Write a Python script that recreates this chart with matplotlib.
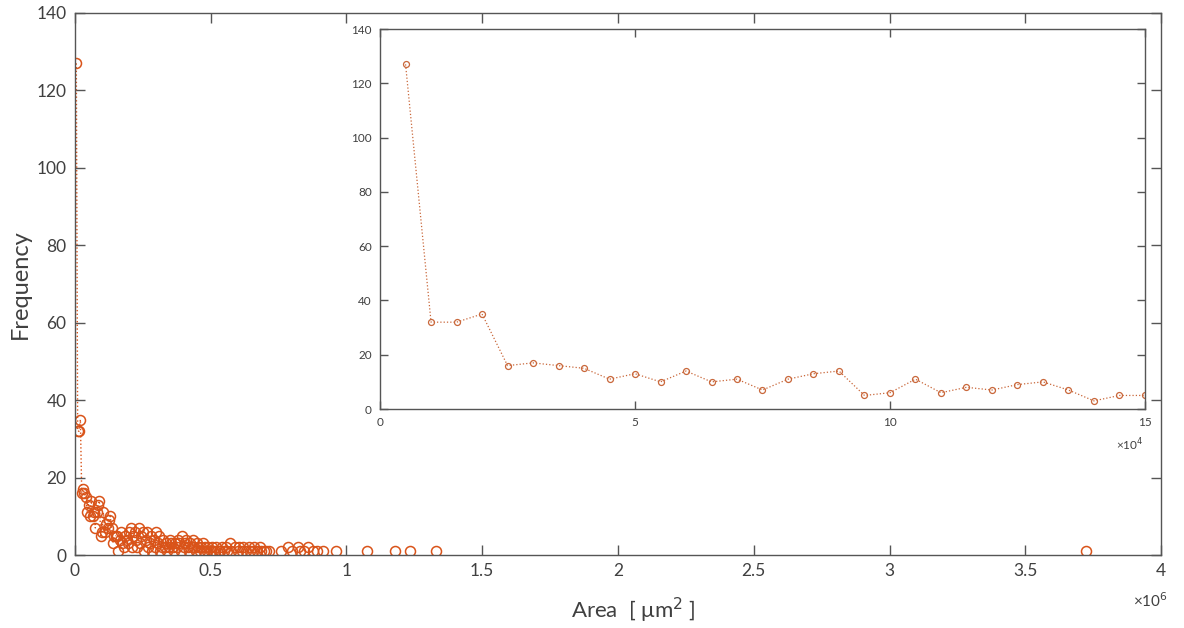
import matplotlib

matplotlib.use("Agg")

import matplotlib.pyplot as plt  # noqa: E402
from matplotlib.ticker import FuncFormatter  # noqa: E402

# bin centres in units of 1e3 um^2, counts per bin (non-empty bins only)
inset_x = [5, 10, 15, 20, 25, 30, 35, 40, 45, 50, 55, 60, 65, 70, 75,
           80, 85, 90, 95, 100, 105, 110, 115, 120, 125, 130, 135, 140, 145, 150]
inset_y = [127, 32, 32, 35, 16, 17, 16, 15, 11, 13, 10, 14, 10, 11, 7,
           11, 13, 14, 5, 6, 11, 6, 8, 7, 9, 10, 7, 3, 5, 5]

tail_x = [155, 160, 165, 170, 175, 180, 185, 190, 195, 200, 205, 210, 215, 220,
          225, 230, 235, 240, 245, 250, 255, 260, 265, 270, 275, 280, 285, 290,
          295, 300, 305, 310, 315, 320, 325, 330, 335, 340, 345, 350, 355, 360,
          365, 370, 375, 380, 385, 390, 395, 400, 405, 410, 415, 420, 425, 430,
          435, 440, 445, 450, 455, 460, 465, 470, 475, 480, 485, 490, 500, 505,
          510, 515, 520, 530, 535, 540, 550, 555, 560, 570, 575, 590, 600, 605,
          615, 620, 630, 640, 645, 655, 660, 670, 680, 685, 695, 705, 715, 760,
          785, 800, 820, 830, 845, 860, 875, 890, 915, 960, 1075, 1180, 1235,
          1330, 3725]
tail_y = [5, 1, 4, 6, 3, 2, 5, 4, 3, 6, 7, 2, 5, 6,
          4, 2, 7, 3, 5, 6, 1, 4, 6, 2, 3, 5, 1, 4,
          2, 6, 3, 5, 1, 2, 4, 2, 3, 1, 2, 4, 3, 2,
          1, 3, 2, 4, 3, 1, 5, 2, 3, 4, 2, 1, 3, 2,
          4, 2, 1, 3, 2, 1, 2, 3, 1, 2, 1, 2, 1, 2,
          1, 1, 2, 1, 1, 2, 1, 2, 1, 3, 1, 2, 1, 2,
          1, 2, 1, 2, 1, 1, 2, 1, 2, 1, 1, 1, 1, 1,
          2, 1, 2, 1, 1, 2, 1, 1, 1, 1, 1, 1, 1,
          1, 1]

ORANGE = "#D95319"
INSET_ORANGE = "#C9673A"
AXIS_GREY = "#555555"
TEXT_GREY = "#404040"

plt.rcParams["font.family"] = ["Lato", "DejaVu Sans"]


def style_box(ax, tick_len, label_size):
    for side in ax.spines.values():
        side.set_color(AXIS_GREY)
        side.set_linewidth(1.0)
    ax.tick_params(direction="in", length=tick_len, width=1.0, colors=AXIS_GREY,
                   labelcolor=TEXT_GREY, labelsize=label_size,
                   top=True, right=True, pad=6)


fig = plt.figure(figsize=(11.84, 6.28), dpi=100)

ax = fig.add_axes([0.0633, 0.1162, 0.9173, 0.8631])
main_x = [v * 1e3 for v in inset_x + tail_x]
main_y = inset_y + tail_y
# dotted guide only shows up on the steep head of the distribution
ax.plot([v * 1e3 for v in inset_x], inset_y, linestyle=":", color=ORANGE, linewidth=1.0)
ax.plot(main_x, main_y, linestyle="none", marker="o", markersize=7.2,
        markerfacecolor="none", markeredgecolor=ORANGE, markeredgewidth=1.1)
ax.set_xlim(0, 4e6)
ax.set_ylim(0, 140)
ax.set_xticks([i * 0.5e6 for i in range(9)])
ax.set_yticks(range(0, 141, 20))
ax.xaxis.set_major_formatter(FuncFormatter(lambda v, _: f"{v / 1e6:g}"))
style_box(ax, 7.5, 12.5)
ax.set_ylabel("Frequency", fontsize=17, color=TEXT_GREY, labelpad=4)
ax.set_xlabel("Area  [ μm$^{2}$ ]", fontsize=16, color=TEXT_GREY, labelpad=8)
ax.xaxis.set_label_coords(0.514, -0.075)
ax.text(0.99, -0.085, "×10$^{6}$", transform=ax.transAxes, ha="center", va="center",
        fontsize=11, color=TEXT_GREY)

ins = fig.add_axes([0.321, 0.3487, 0.646, 0.6050])
ins.plot([v * 1e3 for v in inset_x], inset_y, linestyle=":", color=INSET_ORANGE,
         linewidth=0.9, marker="o", markersize=4.3, markerfacecolor="none",
         markeredgecolor=INSET_ORANGE, markeredgewidth=0.9)
ins.set_xlim(0, 15e4)
ins.set_ylim(0, 140)
ins.set_xticks([0, 5e4, 10e4, 15e4])
ins.set_yticks(range(0, 141, 20))
ins.xaxis.set_major_formatter(FuncFormatter(lambda v, _: f"{v / 1e4:g}"))
style_box(ins, 5.5, 8.5)
ins.text(0.98, -0.095, "×10$^{4}$", transform=ins.transAxes, ha="center", va="center",
         fontsize=8.5, color=TEXT_GREY)

fig.savefig("out.png", dpi=100)
